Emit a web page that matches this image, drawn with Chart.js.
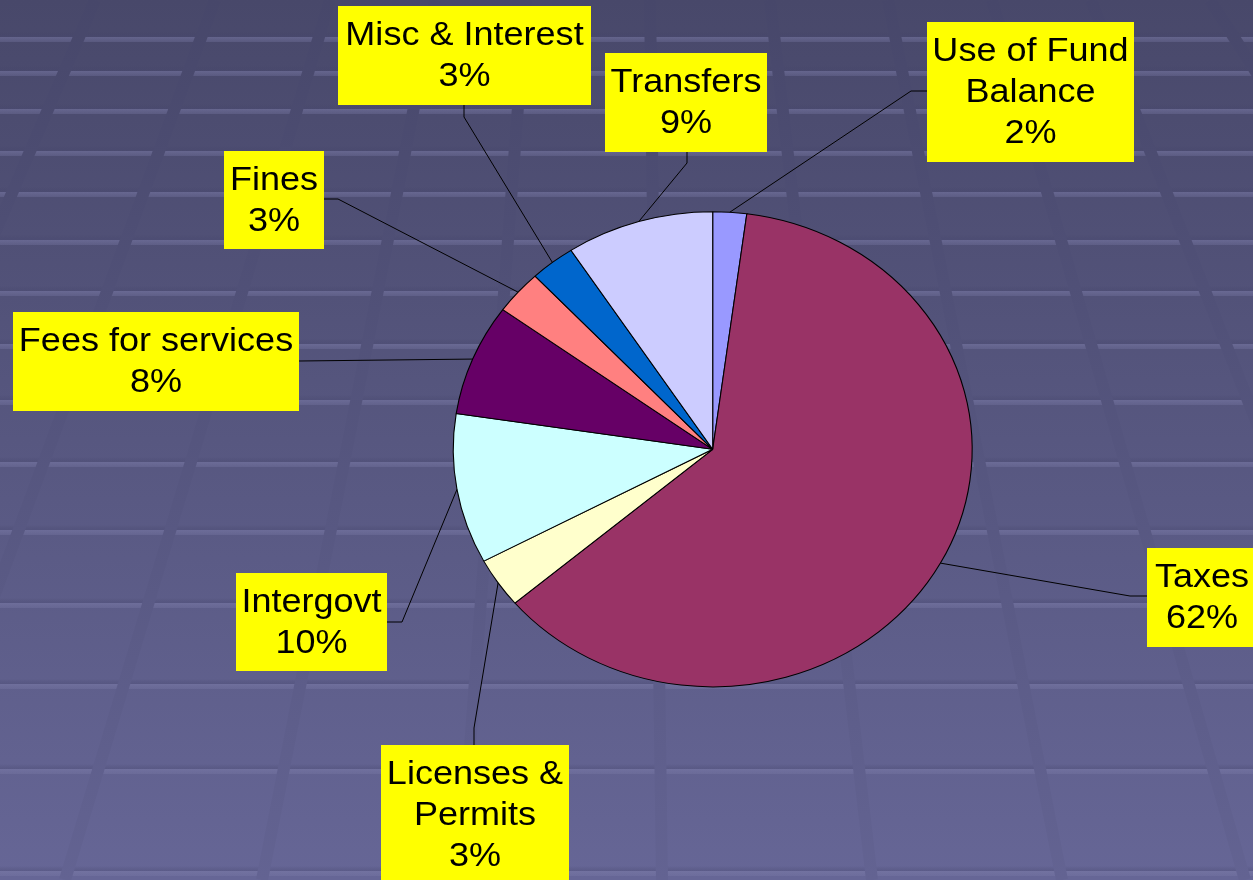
<!DOCTYPE html>
<html>
<head>
<meta charset="utf-8">
<style>
html,body{margin:0;padding:0;background:#4a4a6c;overflow:hidden}
#wrap{position:relative;width:1253px;height:880px}
canvas{display:block}
</style>
<script src="https://cdn.jsdelivr.net/npm/chart.js@4.4.0/dist/chart.umd.min.js"></script>
</head>
<body>
<div id="wrap"><canvas id="c" width="1253" height="880"></canvas></div>
<script>
// ---- data ----
const categories = ['Use of Fund Balance', 'Taxes', 'Licenses & Permits', 'Intergovt', 'Fees for services', 'Fines', 'Misc & Interest', 'Transfers'];
const labelLines = [['Use of Fund', 'Balance'], ['Taxes'], ['Licenses &', 'Permits'], ['Intergovt'], ['Fees for services'], ['Fines'], ['Misc & Interest'], ['Transfers']];
const shares = [2.1, 61.7, 3.4, 10.2, 7.6, 3.0, 2.8, 9.2];
const sliceColors = ['#9999FF', '#993366', '#FFFFCC', '#CCFFFF', '#660066', '#FF8080', '#0066CC', '#CCCCFF'];

// ---- layout (positions of label boxes and leader-line elbows) ----
const SX = 1.092; // horizontal stretch of the original slide
const labelLayout = [
  {box: [927, 22, 207, 140], elbow: [911, 91], attach: [927, 91]},
  {box: [1147, 548, 110, 99], elbow: [1130, 596], attach: [1147, 596]},
  {box: [381, 745, 188, 140], elbow: [474, 728], attach: [474, 745]},
  {box: [236, 573, 151, 98], elbow: [402, 622], attach: [387, 622]},
  {box: [13, 312, 286, 99], elbow: [299, 361], attach: [299, 361]},
  {box: [224, 151, 100, 98], elbow: [338, 199], attach: [324, 199]},
  {box: [338, 6, 253, 99], elbow: [464, 117], attach: [464, 105]},
  {box: [605, 53, 162, 99], elbow: [687, 163], attach: [687, 152]}
];
const bandYs = [38, 72, 110, 152, 193, 241, 292, 345, 401, 463, 531, 604, 685, 770, 872];
const stripes = [[95, -283], [215, -111], [330, 65], [435, 262], [526, 460], [650, 662], [770, 872], [888, 1062], [992, 1245], [1091, 1436], [1210, 1773]];

const bgPlugin = {
  id: 'bg',
  beforeDraw(chart) {
    const ctx = chart.ctx, W = chart.width, H = chart.height;
    ctx.save();
    const g = ctx.createLinearGradient(0, 0, 0, H);
    g.addColorStop(0, 'rgb(72,72,106)');
    g.addColorStop(1, 'rgb(102,102,150)');
    ctx.fillStyle = g;
    ctx.fillRect(0, 0, W, H);
    // horizontal light bands
    bandYs.forEach(y => {
      const bg = ctx.createLinearGradient(0, y - 6, 0, y + 4);
      bg.addColorStop(0, 'rgba(60,60,95,0)');
      bg.addColorStop(0.45, 'rgba(70,70,110,0.3)');
      bg.addColorStop(0.55, 'rgba(125,125,170,0.5)');
      bg.addColorStop(1, 'rgba(125,125,170,0.3)');
      ctx.fillStyle = bg;
      ctx.fillRect(0, y - 6, W, 10);
    });
    // slanted darker stripes
    const sg = ctx.createLinearGradient(0, 0, 0, H);
    sg.addColorStop(0, 'rgb(71,71,106)');
    sg.addColorStop(1, 'rgb(99,99,146)');
    ctx.strokeStyle = sg;
    ctx.lineWidth = 12;
    stripes.forEach(([x0, x1]) => {
      ctx.beginPath();
      ctx.moveTo(x0, 0);
      ctx.lineTo(x1, H);
      ctx.stroke();
    });
    ctx.restore();
  }
};

const ellipsePlugin = {
  id: 'ellipse',
  beforeDatasetsDraw(chart) {
    const a = chart.getDatasetMeta(0).data[0];
    const ctx = chart.ctx;
    ctx.save();
    ctx.translate(a.x, a.y);
    ctx.scale(SX, 1);
    ctx.translate(-a.x, -a.y);
  },
  afterDatasetsDraw(chart) {
    chart.ctx.restore();
  }
};

const labelPlugin = {
  id: 'labels',
  afterDraw(chart) {
    const ctx = chart.ctx;
    const meta = chart.getDatasetMeta(0);
    const total = shares.reduce((s, v) => s + v, 0);
    ctx.save();
    meta.data.forEach((arc, i) => {
      const L = labelLayout[i];
      const mid = (arc.startAngle + arc.endAngle) / 2;
      const ex = arc.x + SX * arc.outerRadius * Math.cos(mid);
      const ey = arc.y + arc.outerRadius * Math.sin(mid);
      ctx.strokeStyle = '#000';
      ctx.lineWidth = 1;
      ctx.beginPath();
      ctx.moveTo(ex, ey);
      ctx.lineTo(L.elbow[0], L.elbow[1]);
      ctx.lineTo(L.attach[0], L.attach[1]);
      ctx.stroke();
      const [bx, by, bw, bh] = L.box;
      ctx.fillStyle = '#FFFF00';
      ctx.fillRect(bx, by, bw, bh);
      const lines = labelLines[i].concat([Math.round(shares[i] / total * 100) + '%']);
      ctx.fillStyle = '#000';
      ctx.font = '33px "Liberation Sans", Arial, sans-serif';
      ctx.textAlign = 'center';
      ctx.textBaseline = 'alphabetic';
      lines.forEach((t, k) => {
        ctx.save();
        ctx.translate(bx + bw / 2, by + 38.5 + k * 41);
        ctx.scale(SX, 1);
        ctx.fillText(t, 0, 0);
        ctx.restore();
      });
    });
    ctx.restore();
  }
};

new Chart(document.getElementById('c'), {
  type: 'pie',
  data: {
    labels: categories,
    datasets: [{
      data: shares,
      backgroundColor: sliceColors,
      borderColor: '#000000',
      borderWidth: 1,
      clip: false
    }]
  },
  options: {
    responsive: false,
    animation: false,
    radius: 237.6,
    layout: {padding: {left: 200, right: 27.6, top: 211.7, bottom: 193.1}},
    plugins: {legend: {display: false}, tooltip: {enabled: false}}
  },
  plugins: [bgPlugin, ellipsePlugin, labelPlugin]
});
</script>
</body>
</html>
